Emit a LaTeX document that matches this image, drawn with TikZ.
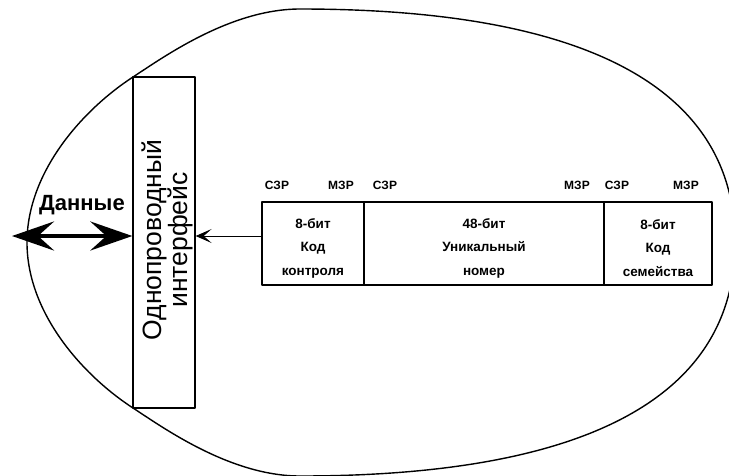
\documentclass[tikz,border=0pt]{standalone}
\usepackage{fontspec}
\setmainfont{Liberation Sans}
\usetikzlibrary{arrows.meta}
\begin{document}
\begin{tikzpicture}[x=1pt,y=-1pt,line join=round,
  cellbox/.style={draw,line width=1.5pt,minimum height=83pt,inner sep=0pt},
  celltxt/.style={align=center,inner sep=0pt,font=\fontsize{13.5}{23.5}\selectfont\bfseries},
  bitlbl/.style={font=\fontsize{12}{13}\selectfont\bfseries,inner sep=0pt},
  thinarrow/.style={line width=0.9pt,-{Stealth[length=16pt,width=14pt,inset=8pt]}},
  bigarrow/.style={line width=4.5pt,{Stealth[length=42pt,width=29pt,inset=16pt]}-{Stealth[length=42pt,width=29pt,inset=16pt]}}]
\useasboundingbox (0,0) rectangle (729,475);
% outer egg-shaped ellipse
\draw[line width=1.4pt] (300,9)
  .. controls (587,9) and (735,88.4) .. (735,242.5)
  .. controls (735,396.6) and (587,476) .. (300,476)
  .. controls (230,476) and (162.4,427.1) .. (133,408)
  .. controls (82.7,375.3) and (27,313) .. (27,242.5)
  .. controls (27,172) and (82.7,109.7) .. (133,77)
  .. controls (162.4,57.9) and (230,9) .. (300,9) -- cycle;
% interface box
\node[draw,line width=1.3pt,minimum width=62pt,minimum height=331pt,inner sep=0pt] (iface) at (164,242.5) {};
\node[rotate=90,align=center,inner sep=0pt,font=\fontsize{26.5}{19.5}\selectfont] (ifacetxt) at (167,240)
  {Однопроводный\\интерфейс};
% register cells
\node[cellbox,minimum width=102pt] (cell1) at (313,243.5) {};
\node[cellbox,minimum width=240pt] (cell2) at (484,243.5) {};
\node[cellbox,minimum width=108pt] (cell3) at (658,243.5) {};
\node[celltxt] (t1) at ([yshift=-4.5pt]cell1.center) {8-бит\\Код\\контроля};
\node[celltxt] (t2) at ([yshift=-4.5pt]cell2.center) {48-бит\\Уникальный\\номер};
\node[celltxt] (t3) at ([yshift=-4.5pt]cell3.center) {8-бит\\Код\\семейства};
% bit labels
\node[bitlbl] (l1) at (277,185) {СЗР};
\node[bitlbl] (l2) at (341,185) {МЗР};
\node[bitlbl] (l3) at (385,185) {СЗР};
\node[bitlbl] (l4) at (577,185) {МЗР};
\node[bitlbl] (l5) at (617,185) {СЗР};
\node[bitlbl] (l6) at (686,185) {МЗР};
% arrows
\coordinate (ay) at (0,236);
\coordinate (dl) at (12,236);
\draw[thinarrow] (cell1.west |- ay) -- (iface.east |- ay);
\draw[bigarrow] (dl) -- (iface.west |- ay);
\node[font=\fontsize{22}{24}\selectfont\bfseries,inner sep=0pt] (data) at (82,205) {Данные};
\end{tikzpicture}
\end{document}
